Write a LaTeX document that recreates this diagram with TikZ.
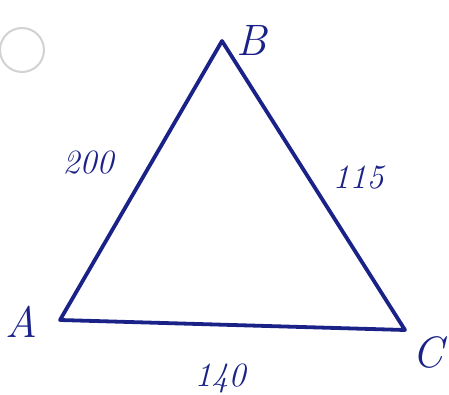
\documentclass[tikz,border=0pt]{standalone}
\usepackage{tikz}
\usetikzlibrary{positioning}

\definecolor{penblue}{RGB}{26,34,135}

\begin{document}
\begin{tikzpicture}[
    x=1pt, y=-1pt,
    every node/.style={text=penblue, font=\itshape\fontsize{44}{44}\selectfont, inner sep=0pt},
    side/.style={draw=penblue, line width=3.8pt, line join=round, line cap=round},
    sidelabel/.style={font=\itshape\fontsize{34}{34}\selectfont}
]
\useasboundingbox (0,0) rectangle (449,395);

% --- punch hole ---
\draw[gray!35, line width=2pt, fill=white] (22,50) circle (22);

% --- Vertices ---
\coordinate (a) at (60,320);
\coordinate (b) at (222,41);
\coordinate (c) at (405,330);

% --- Triangle ---
\draw[side] (a) -- (b) -- (c) -- cycle;

% --- Vertex names ---
\node (la) at (21,322) {A};
\node (lb) at (252,40) {B};
\node (lc) at (428,352) {C};

% --- Side lengths ---
\node[sidelabel] (ab) at (88,163) {200};
\node[sidelabel] (bc) at (358,178) {115};
\node[sidelabel] (ca) at (220,378) {140};

\end{tikzpicture}
\end{document}
